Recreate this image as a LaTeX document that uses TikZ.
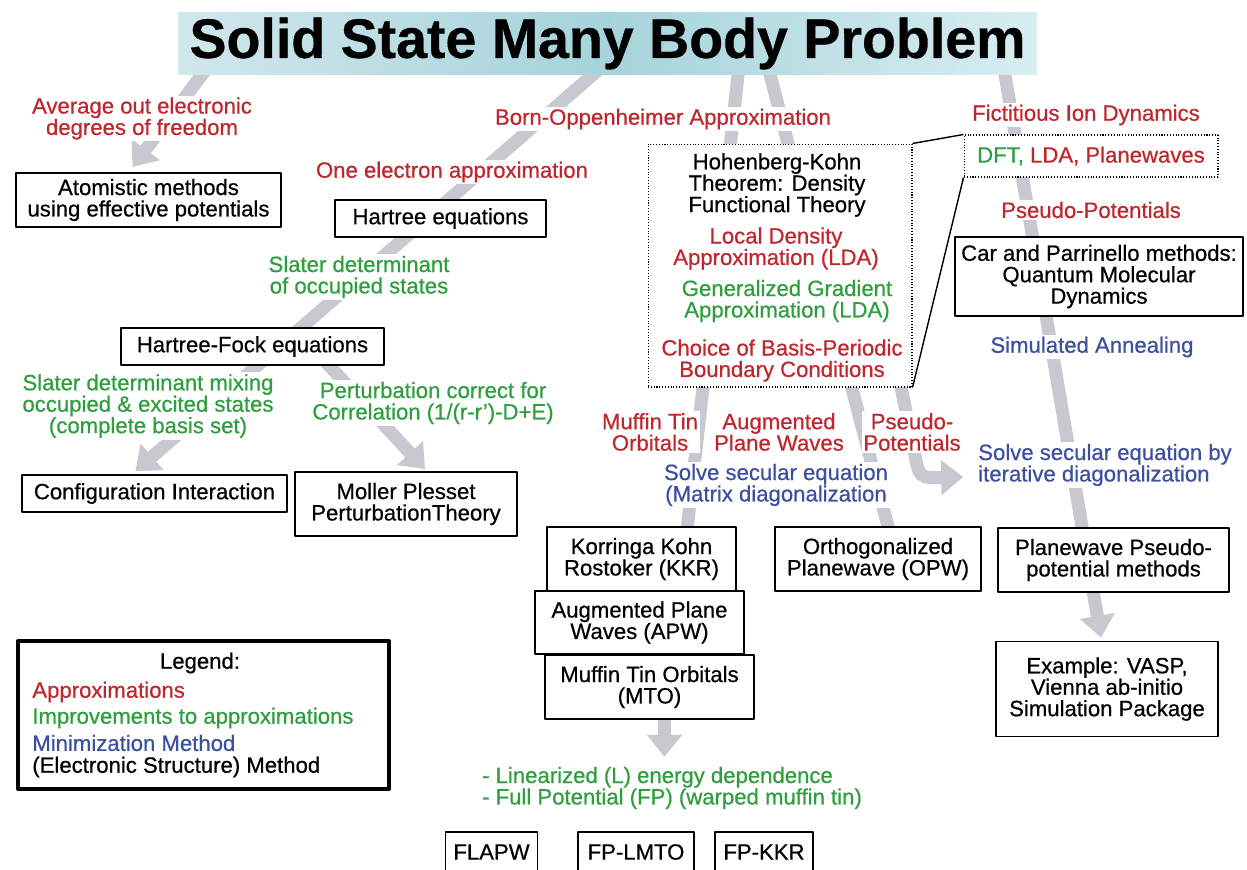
\documentclass[tikz,border=0pt]{standalone}
\usepackage{fontspec}
\setmainfont{Liberation Sans}[FakeBold=0.6]
\usetikzlibrary{arrows.meta,calc}
\definecolor{apxred}{RGB}{192,39,45}
\definecolor{impgreen}{RGB}{46,158,62}
\definecolor{minblue}{RGB}{60,80,160}
\definecolor{arrgrey}{RGB}{200,200,208}
\definecolor{ttlL}{RGB}{208,231,236}
\definecolor{ttlM}{RGB}{166,211,219}
\definecolor{ttlR}{RGB}{216,238,242}
\pgfdeclarelayer{back}
\pgfsetlayers{back,main}
\begin{document}
\begin{tikzpicture}[x=0.02cm, y=-0.02cm, font=\fontsize{12.6}{12.2}\selectfont, line join=round,
  mbox/.style={draw, fill=white, line width=1pt, align=center, inner sep=1pt},
  dbox/.style={draw, densely dotted, fill=white, line width=0.6pt, inner sep=1pt},
  lbl/.style={fill=white, align=center, inner sep=1pt},
  apx/.style={lbl, text=apxred},
  imp/.style={lbl, text=impgreen},
  mini/.style={lbl, text=minblue},
  garrow/.style={draw=arrgrey, line width=0.26cm, -{Triangle[length=0.44cm,width=0.68cm]}},
  gline/.style={draw=arrgrey, line width=0.26cm}]
\useasboundingbox (0,0) rectangle (1247,869);
% title
\node[inner sep=0pt, minimum width=17.18cm, minimum height=1.26cm, left color=ttlL, right color=ttlR, middle color=ttlM, font=\fontsize{31.6}{36}\selectfont\bfseries] (title) at (607.5,43.5) {Solid State Many Body Problem};
% left branch
\node[apx] (avg) at (142,118.5) {Average out electronic\\degrees of freedom};
\node[mbox, minimum width=5.3cm, minimum height=1.08cm] (atom) at (148.5,200) {Atomistic methods\\using effective potentials};
\node[apx] (bo) at (663,119) {Born-Oppenheimer Approximation};
\node[apx] (one) at (452,172) {One electron approximation};
\node[mbox, minimum width=4.22cm, minimum height=0.74cm] (hartree) at (440.5,218.5) {Hartree equations};
\node[imp] (slater) at (359,277) {Slater determinant\\of occupied states};
\node[mbox, minimum width=5.26cm, minimum height=0.74cm] (hf) at (252.5,346.5) {Hartree-Fock equations};
\node[imp] (mix) at (148,406) {Slater determinant mixing\\occupied \& excited states\\(complete basis set)};
\node[imp] (pert) at (433,403) {Perturbation correct for\\Correlation (1/(r-r’)-D+E)};
\node[mbox, minimum width=5.3cm, minimum height=0.74cm] (ci) at (154.5,493.5) {Configuration Interaction};
\node[mbox, minimum width=4.44cm, minimum height=1.28cm] (mp) at (406,504) {Moller Plesset\\PerturbationTheory};
% density functional box
\node[dbox, minimum width=5.28cm, minimum height=4.86cm] (dft) at (780,265.5) {};
\node[lbl] (hk) at (777,185) {Hohenberg-Kohn\\Theorem: Density\\Functional Theory};
\node[apx] (lda) at (776,248.5) {Local Density\\Approximation (LDA)};
\node[imp] (gga) at (787,301) {Generalized Gradient\\Approximation (LDA)};
\node[apx] (basis) at (782,360.5) {Choice of Basis-Periodic\\Boundary Conditions};
% right branch
\node[apx] (fid) at (1086,115) {Fictitious Ion Dynamics};
\node[dbox, minimum width=5.08cm, minimum height=0.84cm] (dfts) at (1091,156) {\textcolor{impgreen}{DFT,} \textcolor{apxred}{LDA, Planewaves}};
\node[apx] (pp) at (1091,210) {Pseudo-Potentials};
\node[mbox, minimum width=5.76cm, minimum height=1.58cm] (car) at (1099,276.5) {Car and Parrinello methods:\\Quantum Molecular\\Dynamics};
\node[mini] (sa) at (1092,347) {Simulated Annealing};
% basis choices
\node[apx] (mtol) at (650,432) {Muffin Tin\\Orbitals};
\node[apx] (apwl) at (779,432) {Augmented\\Plane Waves};
\node[apx] (psl) at (912,432) {Pseudo-\\Potentials};
\node[mini] (sec) at (776,485) {Solve secular equation\\(Matrix diagonalization};
\node[mini, align=left] (iter) at (1105,465) {Solve secular equation by\\iterative diagonalization};
\node[mbox, minimum width=3.78cm, minimum height=1.28cm] (kkr) at (641.5,559) {Korringa Kohn\\Rostoker (KKR)};
\node[mbox, minimum width=4.18cm, minimum height=1.26cm] (apw) at (639.5,622.5) {Augmented Plane\\Waves (APW)};
\node[mbox, minimum width=4.18cm, minimum height=1.28cm] (mto) at (649.5,687) {Muffin Tin Orbitals\\(MTO)};
\node[mbox, minimum width=4.12cm, minimum height=1.28cm] (opw) at (878,559) {Orthogonalized\\Planewave (OPW)};
\node[mbox, minimum width=4.62cm, minimum height=1.28cm] (pw) at (1113.5,560) {Planewave Pseudo-\\potential methods};
\node[mbox, minimum width=4.44cm, minimum height=1.9cm] (vasp) at (1107,689) {Example: VASP,\\Vienna ab-initio\\Simulation Package};
\node[imp, align=left] (lin) at (672,788) {- Linearized (L) energy dependence\\- Full Potential (FP) (warped muffin tin)};
\node[mbox, minimum width=1.84cm, minimum height=0.8cm] (flapw) at (491.5,852) {FLAPW};
\node[mbox, minimum width=2.32cm, minimum height=0.8cm] (fplmto) at (636,852) {FP-LMTO};
\node[mbox, minimum width=1.96cm, minimum height=0.8cm] (fpkkr) at (764,852) {FP-KKR};
% legend
\node[draw, fill=white, line width=2.4pt, minimum width=7.42cm, minimum height=2.96cm] (legend) at (203.5,715) {};
\node (legt) at (200,663) {Legend:};
\node[anchor=west, inner sep=0pt, text=apxred] (lgapx) at (32,692) {Approximations};
\node[anchor=west, inner sep=0pt, text=impgreen] (lgimp) at (32,718) {Improvements to approximations};
\node[anchor=west, inner sep=0pt, text=minblue] (lgmin) at (32,743) {Minimization Method};
\node[anchor=west, inner sep=0pt] (lgmeth) at (32,767) {(Electronic Structure) Method};
% thin links
\draw[line width=0.8pt] (dft.north east) -- (dfts.north west);
\draw[line width=0.8pt] (dft.south east) -- (dfts.south west);
% grey arrows behind
\begin{pgfonlayer}{back}
\fill[white] (0,0) rectangle (1247,869);
\coordinate (s1) at (228,40);
\coordinate (s2) at (633,40);
\coordinate (s4) at (742,40);
\coordinate (s5) at (761,40);
\coordinate (s7) at (999,40);
\draw[garrow] (s1) -- ($(atom.north)+(-16,-5)$);
\draw[garrow] (s2) -- ($(ci.north)+(-19,-3)$);
\draw[garrow] ($(hf.center)+(57,-2)$) -- ($(mp.north)+(19,-2)$);
\draw[gline] (s4) -- ($(kkr.north)+(45,8)$);
\draw[gline] (s5) -- ($(opw.north)+(12,8)$);
\draw[garrow] ($(dft.south)+(118,-15)$) -- ($(iter.west)+(-62,-14)$) .. controls ($(iter.west)+(-57,13)$) .. ($(iter.west)+(-13,12)$);
\draw[garrow] (s7) -- ($(vasp.north)+(-6,-3)$);
\draw[garrow] ($(mto.south)+(15,0)$) -- ($(mto.south)+(15,37)$);
\end{pgfonlayer}
\end{tikzpicture}
\end{document}
